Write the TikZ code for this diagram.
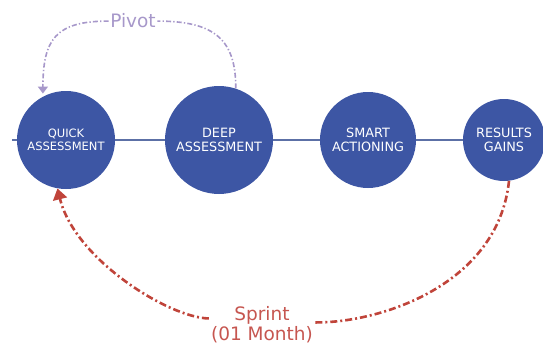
\documentclass[tikz,border=0pt]{standalone}
\usepackage{fontspec}
\setmainfont{DejaVu Sans}
\usetikzlibrary{arrows.meta,backgrounds}
\definecolor{stageblue}{RGB}{61,86,164}
\definecolor{linkblue}{RGB}{92,112,166}
\definecolor{pivotlav}{RGB}{167,152,202}
\definecolor{sprintred}{RGB}{192,68,58}
\definecolor{sprinttext}{RGB}{198,86,80}
\tikzset{
  stage/.style={circle,fill=stageblue,text=white,inner sep=0pt,align=center},
  smalltxt/.style={font=\fontsize{11.5}{13}\selectfont},
  bigtxt/.style={font=\fontsize{12.8}{14.5}\selectfont},
  looplabel/.style={font=\fontsize{18.5}{20}\selectfont},
  pivotline/.style={draw=pivotlav,line width=1.6pt,
    dash pattern=on 5pt off 2.2pt on 1.3pt off 2.2pt},
  sprintline/.style={draw=sprintred,line width=2.6pt,
    dash pattern=on 7pt off 3pt on 2pt off 3pt},
}
\begin{document}
\begin{tikzpicture}[x=1pt,y=-1pt]
\useasboundingbox (0,0) rectangle (543,345);

% process stages
\node[stage,smalltxt,minimum size=98pt]  (quick)   at (66,140)  {QUICK\\ASSESSMENT};
\node[stage,bigtxt,minimum size=108pt]   (deep)    at (219,140) {DEEP\\ASSESSMENT};
\node[stage,bigtxt,minimum size=96pt]    (smart)   at (368,140) {SMART\\ACTIONING};
\node[stage,bigtxt,minimum size=82pt]    (results) at (504,140) {RESULTS\\GAINS};

% timeline behind the stages
\coordinate (lstart) at (12,140);
\coordinate (lend)   at (543,140);
\begin{scope}[on background layer]
  \draw[linkblue,line width=1.6pt] (lstart) -- (quick) -- (deep) -- (smart) -- (results) -- (lend);
\end{scope}

% pivot loop
\node[looplabel,text=pivotlav,inner sep=1.5pt,anchor=base] (pivot) at (133,28) {Pivot};
\draw[pivotline] (deep.72) .. controls (236,40) and (215,21) .. (pivot.east);
\draw[pivotline,-{Triangle[length=7pt,width=10pt]}]
  (pivot.west) .. controls (55,21) and (43,40) .. ([yshift=3pt]quick.118);

% sprint loop
\node[looplabel,text=sprinttext,align=center,inner xsep=2pt,inner ysep=0pt,anchor=north]
  (sprint) at (262,306) {Sprint\\(01 Month)};
\draw[sprintline] (results.-83) .. controls (498,285) and (380,323) .. ([yshift=2pt]sprint.east);
\draw[sprintline,-{Triangle[length=11pt,width=14pt]}]
  ([yshift=6pt]sprint.west) .. controls (170,318) and (75,260) .. (quick.-100);
\end{tikzpicture}
\end{document}
